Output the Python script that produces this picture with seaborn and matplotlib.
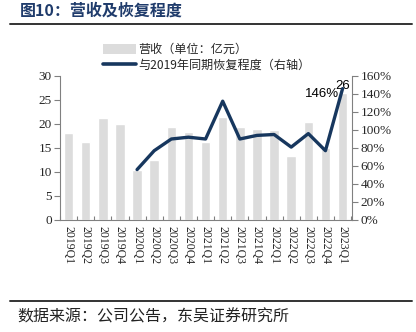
import numpy as np
import pandas as pd
import matplotlib
matplotlib.use("Agg")
import matplotlib.pyplot as plt
import seaborn as sns
from matplotlib.patches import Patch
from matplotlib.lines import Line2D

quarters = ["2019Q1", "2019Q2", "2019Q3", "2019Q4", "2020Q1", "2020Q2", "2020Q3", "2020Q4",
            "2021Q1", "2021Q2", "2021Q3", "2021Q4", "2022Q1", "2022Q2", "2022Q3", "2022Q4", "2023Q1"]
revenue = [18.1, 16.2, 21.3, 19.9, 10.4, 12.4, 19.3, 18.3, 16.3, 21.4, 19.3, 18.9, 18.8, 13.3, 20.4, 15.1, 26.4]
recovery_quarters = quarters[4:]
recovery = [56, 77, 90, 92, 90, 132, 90, 94, 95, 81, 96, 77, 146]

sns.set_theme(style="white")
plt.rcParams['font.family'] = ['Liberation Serif', 'Noto Sans CJK SC', 'DejaVu Sans']

BAR = "#DCDCDC"
LINE = "#17375E"
SPINE = "#808080"

fig = plt.figure(figsize=(4.16, 3.32), dpi=100)
ax = fig.add_axes([60/416, 1-220/332, 292/416, 144/332])

df = pd.DataFrame({"q": quarters, "rev": revenue})
sns.barplot(data=df, x="q", y="rev", color=BAR, width=0.55, ax=ax, saturation=1)
ax.set_xlim(-0.45, 16.55)
ax.set_ylim(0, 30)
ax.set_yticks(range(0, 31, 5))
ax.set_xlabel("")
ax.set_ylabel("")

ax2 = ax.twinx()
pos = [quarters.index(q) for q in recovery_quarters]
sns.lineplot(x=pos, y=recovery, color=LINE, linewidth=2.4, ax=ax2)
ax2.set_ylim(0, 160)
ax2.set_yticks(range(0, 161, 20))
ax2.set_yticklabels([f"{v}%" for v in range(0, 161, 20)])
ax2.set_xlim(-0.45, 16.55)

for a in (ax, ax2):
    a.spines["top"].set_visible(False)
    for s in ["left", "right", "bottom"]:
        a.spines[s].set_color(SPINE)
        a.spines[s].set_linewidth(0.8)
ax.spines["right"].set_visible(False)
ax2.spines["left"].set_visible(False)
ax2.spines["bottom"].set_visible(False)

ax.tick_params(axis="y", direction="out", length=4, color=SPINE, width=0.8, labelsize=9.5, pad=2, left=True)
ax2.tick_params(axis="y", direction="out", length=4, color=SPINE, width=0.8, labelsize=9.5, pad=2, right=True)
ax.set_xticks(range(len(quarters)))
ax.set_xticklabels(quarters, rotation=270, fontsize=8.5)
ax.tick_params(axis="x", length=0, pad=4)
ax.set_xticks(np.arange(-0.5, len(quarters), 1), minor=True)
ax.tick_params(axis="x", which="minor", direction="in", length=3, color=SPINE, width=0.8, bottom=True)

ax2.text(15.8, 140, "146%", fontsize=9.5, family="Liberation Sans", ha="right", va="center", color="black")
ax.text(16, 26.7, "26", fontsize=9.5, family="Liberation Sans", ha="center", va="bottom", color="black")

handles = [Patch(facecolor=BAR, edgecolor="none"), Line2D([0], [0], color=LINE, linewidth=2.6)]
labels = ["营收（单位：亿元）", "与2019年同期恢复程度（右轴）"]
fig.legend(handles, labels, loc="upper left", bbox_to_anchor=(103/416, 1-43/332), frameon=False,
           prop={"family": ["Noto Sans CJK SC"], "size": 8.7}, handlelength=2.7, handleheight=0.9,
           handletextpad=0.2, labelspacing=0.2, borderaxespad=0, borderpad=0)

fig.text(20/416, 1-11/332, "图10：营收及恢复程度", fontsize=11.5, fontweight="bold", color="#1F3B6B",
         family=["Noto Sans CJK SC"], va="center", ha="left")
fig.add_artist(Line2D([10/416, 412/416], [1-23.5/332, 1-23.5/332], color="#333333", linewidth=1.4))
fig.add_artist(Line2D([10/416, 412/416], [1-300.5/332, 1-300.5/332], color="#333333", linewidth=1.4))
fig.text(17/416, 1-317/332, "数据来源：公司公告，东吴证券研究所", fontsize=11.5, color="#222222",
         family=["Noto Sans CJK SC"], va="center", ha="left")

fig.savefig("out.png", dpi=100)
